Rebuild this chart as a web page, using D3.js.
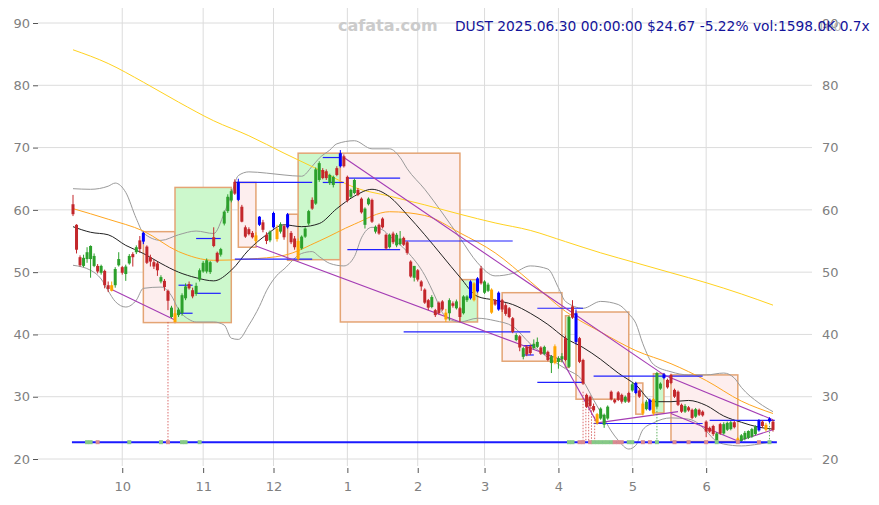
<!DOCTYPE html>
<html><head><meta charset="utf-8">
<script src="https://cdn.jsdelivr.net/npm/d3@7"></script>
<style>body{margin:0;background:#fff}svg{display:block;font-family:"DejaVu Sans",sans-serif}</style>
</head><body>
<svg id="chart" width="879" height="505"></svg>
<script>
// ---- candle data (trading days, Sep 11 2024 .. Jun 30 2025) ----
const opens = [
60.9,57.6,52.4,51.0,52.1,52.1,51.0,51.0,49.9,50.2,
47.9,47.9,47.9,51.1,50.8,49.7,51.4,52.9,53.2,55.1,
54.9,54.1,52.4,51.6,51.4,48.5,48.6,47.0,42.8,43.4,
43.1,43.4,45.8,48.1,47.1,46.5,48.8,50.1,50.1,50.0,
55.6,53.1,52.8,57.8,59.8,61.5,64.5,61.6,60.5,57.2,
56.9,56.3,55.9,57.6,58.0,56.0,55.1,57.2,57.0,56.5,
57.4,57.2,56.3,55.4,55.0,53.8,55.7,57.8,61.6,61.0,
64.8,66.4,66.2,64.3,64.0,66.7,67.0,68.6,65.3,62.1,
62.7,63.2,61.8,57.6,60.9,61.6,56.5,57.6,58.6,56.0,
54.0,56.2,54.3,54.5,55.5,54.8,51.7,49.1,50.3,48.5,
47.2,45.5,44.4,43.9,45.1,45.3,43.5,43.4,45.0,44.2,
44.2,43.4,45.5,45.8,45.5,46.9,50.6,46.7,47.0,47.2,
45.5,44.0,45.5,44.7,44.2,42.6,39.1,39.7,36.4,38.0,
38.1,37.8,38.0,37.9,36.9,37.2,35.4,38.1,35.6,36.0,
39.4,34.8,44.5,43.4,39.4,35.9,30.3,30.0,28.5,27.2,
26.5,25.5,26.5,30.8,29.5,30.7,30.3,29.2,30.6,31.0,
30.6,31.0,28.9,28.0,27.9,29.6,28.4,31.3,33.0,32.7,
33.5,31.1,30.8,28.7,27.6,28.3,27.9,26.8,27.9,27.6,
26.0,25.0,25.3,23.0,25.6,24.1,24.7,24.8,25.9,23.3,
22.9,23.2,23.4,23.6,24.0,24.6,26.0,25.5,26.5,26.0];
const highs = [
62.4,57.7,52.7,52.8,54.0,54.3,53.0,51.3,51.2,50.4,
48.5,48.5,50.8,53.2,51.0,51.2,52.9,53.2,54.3,55.8,
56.5,54.3,52.8,52.0,51.7,49.5,48.9,47.2,44.6,43.9,
44.3,46.6,48.2,48.5,47.5,48.3,50.6,51.8,52.2,51.8,
57.2,53.3,53.9,59.9,62.5,63.3,64.9,65.0,60.8,57.5,
57.2,56.6,56.4,59.0,58.4,56.4,56.7,59.7,57.6,58.0,
57.6,59.5,56.6,55.8,55.4,55.9,57.2,60.0,62.0,66.8,
67.8,66.7,66.5,65.8,65.5,67.0,69.6,68.9,65.5,63.4,
65.0,63.5,62.0,60.4,62.0,61.8,57.5,57.8,58.8,56.2,
56.2,56.5,56.3,56.6,55.7,55.0,51.9,51.0,50.5,48.7,
47.4,45.7,46.3,44.1,45.3,45.5,44.1,45.8,45.3,45.6,
44.4,46.3,46.3,48.7,48.4,49.2,51.0,48.7,48.3,47.4,
45.7,46.9,45.7,45.0,44.4,42.8,40.2,39.9,38.0,38.3,
38.4,39.2,39.5,38.1,38.2,37.4,36.7,38.4,36.5,37.0,
39.8,43.0,45.5,44.0,39.6,36.1,30.5,30.2,28.9,27.4,
28.3,27.3,28.6,31.0,29.7,30.9,30.5,30.2,30.8,32.3,
32.4,31.2,29.2,29.5,29.7,29.8,34.0,32.3,33.8,32.9,
33.7,31.3,31.0,28.9,28.8,28.5,28.1,28.2,28.1,27.8,
26.2,25.2,25.5,24.3,25.8,25.9,26.0,26.1,26.1,23.5,
24.0,24.5,24.6,25.0,25.4,26.4,26.2,25.8,26.7,26.3];
const lows = [
59.0,53.0,50.9,50.8,51.5,49.1,50.8,49.8,49.6,47.4,
46.8,46.9,47.5,50.9,49.6,48.6,51.2,50.9,52.9,53.1,
54.5,51.3,50.9,50.5,49.4,48.2,47.0,43.9,42.6,41.9,
42.8,43.0,45.5,47.2,45.8,46.2,48.5,49.9,49.8,49.7,
54.0,51.5,52.5,57.5,59.5,61.2,62.4,61.4,58.0,55.5,
55.9,55.4,54.6,57.4,56.4,54.5,54.8,57.0,54.9,56.2,
55.2,57.0,54.5,53.6,51.9,53.6,55.5,57.5,60.0,60.8,
64.5,64.9,64.8,64.0,63.6,65.4,66.8,66.8,61.2,61.9,
62.5,62.2,59.4,57.0,60.7,57.9,56.2,56.0,57.0,53.6,
53.8,54.5,54.0,54.3,54.2,52.8,49.1,48.5,48.5,47.0,
44.9,43.9,44.2,42.8,43.2,43.8,42.0,42.2,44.3,44.0,
42.0,43.2,45.2,45.6,45.3,46.7,48.0,46.5,46.8,43.3,
44.6,43.8,43.6,43.0,42.6,40.2,38.9,37.3,36.0,36.5,
36.7,37.6,37.8,36.7,36.7,35.7,33.8,35.2,34.5,35.5,
35.7,34.6,42.5,38.4,35.4,31.9,28.2,28.0,27.5,25.5,
26.3,25.0,26.3,29.4,28.9,29.3,28.9,29.0,29.0,30.8,
30.4,29.8,27.0,27.8,27.7,27.0,28.2,31.1,32.8,31.3,
32.0,29.8,28.5,27.4,27.4,27.6,26.4,26.6,26.9,26.8,
23.5,24.2,23.7,22.5,23.9,23.9,24.5,24.6,24.9,22.6,
22.7,23.0,23.2,23.4,23.8,24.4,25.0,24.4,25.8,24.4];
const closes = [
59.3,53.6,51.1,52.3,53.2,54.2,52.6,50.1,51.0,47.9,
47.3,47.0,50.5,52.1,49.9,50.9,52.6,52.4,54.0,53.7,
56.3,51.5,51.7,50.9,50.3,49.2,47.6,45.4,44.3,42.0,
44.0,46.3,47.7,47.4,46.1,47.8,50.3,51.5,51.9,51.6,
54.2,51.7,53.7,59.7,62.1,63.0,62.6,64.5,58.1,55.7,
56.1,55.6,55.0,58.9,56.8,55.0,56.5,59.5,55.3,57.7,
55.6,59.3,54.8,54.0,52.1,55.7,57.0,59.8,60.2,66.5,
67.5,65.1,65.1,65.6,65.3,65.6,69.1,67.0,61.5,63.2,
64.8,62.4,59.6,60.2,61.8,58.1,57.3,56.2,57.2,53.8,
56.0,54.8,56.0,55.4,54.4,53.1,49.3,51.0,48.8,47.7,
45.1,44.3,46.0,43.1,43.4,44.0,42.4,45.5,44.6,45.3,
42.8,46.1,46.1,48.5,48.2,49.0,48.2,48.5,48.0,43.5,
44.8,46.7,44.0,43.3,42.8,40.4,39.9,37.9,37.8,36.8,
37.0,38.5,38.8,36.9,38.0,35.9,36.5,35.4,36.2,36.5,
35.9,42.8,42.7,38.8,35.6,32.1,28.4,28.5,27.8,25.7,
28.1,27.1,28.4,29.6,29.1,29.5,29.2,30.0,29.2,32.0,
32.2,30.0,27.3,29.2,29.5,27.3,33.8,32.1,33.6,31.5,
32.2,30.0,28.7,27.6,28.5,27.8,26.6,28.0,27.1,27.0,
24.4,24.4,24.0,24.1,24.1,25.6,25.8,25.9,25.1,22.8,
23.8,24.2,24.5,24.8,25.2,26.2,25.3,24.7,26.03,24.67];
const blueCandles = [20,47,53,57,61,76,113,115,121,143,160,164,168,195,198];
const orangeCandles = [11,29,52,58,64,106,114,119,137,149,162,165,189,197];

// ---- axis ticks ----
const yTicks = [20,30,40,50,60,70,80,90];
const monthIdx = [14,37,57,78,98,117,138,159,180];
const monthLabels = ["10","11","12","1","2","3","4","5","6"];

// ---- indicator lines (sampled) ----
const yellowIdx = [0,10,20,30,40,50,60,70,80,90,100,110,120,130,140,150,160,170,180,190,199];
const yellowVal = [85.7,83.5,80.5,77.3,74.3,71.9,69.1,66.4,63.6,62.2,60.8,59.3,57.9,56.7,54.9,53.1,51.5,49.9,48.3,46.5,44.7];
const orangeIdx = [0,10,20,30,40,50,60,70,80,90,100,110,120,130,140,150,160,170,180,190,199];
const orangeVal = [60.2,58.5,56.6,53.3,51.9,52.1,52.7,55.0,57.7,59.7,59.1,56.3,53.1,48.5,43.7,40.4,37.4,35.3,32.6,29.3,27.3];
const midIdx = [0,5,10,15,20,25,30,35,40,45,50,55,60,65,70,75,80,85,90,95,100,105,110,115,120,125,130,135,140,145,150,155,160,165,170,175,180,185,190,195,199];
const midVal = [57.3,56.4,56.0,54.3,53.0,51.4,50.0,49.1,48.6,50.3,53.6,56.0,57.6,57.3,57.8,60.2,62.2,63.3,62.1,59.2,56.0,52.6,49.2,46.1,45.5,44.8,43.4,41.6,39.4,37.9,36.0,33.8,31.9,29.2,29.2,29.4,28.6,26.9,25.9,25.1,24.8];
const upperIdx = [0,5,10,12,15,18,20,25,30,35,40,43,45,47,50,55,60,65,68,70,73,75,80,85,90,93,95,100,105,110,115,120,125,130,135,138,140,145,150,155,158,160,162,165,170,175,180,185,188,190,195,199];
const upperVal = [63.4,63.3,63.8,64.3,62.8,58.6,56.3,55.1,56.0,56.6,56.2,59.5,62.5,65.5,66.1,65.9,65.6,65.4,67.0,68.3,69.6,70.6,71.1,69.8,69.8,68.4,66.6,63.3,59.5,55.5,51.5,49.4,49.8,51.0,50.5,47.5,45.3,44.2,45.3,44.8,43.3,41.8,38.5,35.2,34.0,33.5,33.5,33.8,33.0,31.5,29.0,27.6];
const lowerIdx = [0,5,8,10,12,15,18,20,25,28,30,33,35,40,43,45,47,50,53,55,58,60,65,68,70,73,77,80,82,85,88,90,95,100,103,105,108,110,115,120,125,130,135,140,145,148,150,153,155,158,160,162,165,170,175,178,180,183,185,190,195,199];
const lowerVal = [51.1,50.3,48.9,47.0,45.3,44.4,45.5,47.4,47.6,46.2,44.0,42.4,42.0,42.0,41.5,39.4,39.2,41.5,44.5,47.0,49.5,50.5,53.0,53.3,52.5,51.4,51.0,52.5,55.5,57.2,56.8,55.8,53.3,49.5,46.0,43.5,42.2,42.0,42.6,42.2,41.3,38.5,36.3,34.5,32.5,29.5,27.5,24.5,23.0,21.6,22.2,24.7,25.8,26.6,26.4,25.6,24.5,22.8,22.4,22.1,22.4,22.8];

// ---- annotations ----
// [startIdx, endIdx, topPrice, bottomPrice, kind]
const boxes = [
 [20,29,56.5,41.9,"r"],[29,45,63.6,41.9,"g"],[47,52,64.4,54.0,"r"],[61,64,59.3,51.9,"r"],
 [64,76,69.1,52.0,"g"],[76,110,69.1,42.0,"r"],[110,115,48.8,42.0,"g"],[122,139,46.7,35.7,"r"],
 [140,141,43.0,34.7,"g"],[143,158,43.6,29.6,"r"],[160,162,32.2,27.2,"r"],[165,168,33.7,27.4,"g"],
 [170,189,33.5,22.8,"r"]];
// [startIdx, endIdx, price]
const levels = [
 [30,34,47.9],[30,34,43.4],[35,42,55.4],[35,42,46.6],[46,68,64.4],[46,68,52.1],
 [71,76,68.4],[71,77,64.4],[78,93,65.1],[78,93,53.6],[94,125,55.0],[94,130,40.4],
 [132,145,44.2],[132,145,32.3],[128,131,38.2],[128,131,36.7],[148,179,33.3],[148,179,25.7],
 [181,199.5,26.2]];
const baseLevel = [-0.3,200.1,22.7];
// [idx1, price1, idx2, price2]
const trendLines = [
 [11,47.2,29,42.3],[52,54.2,139,35.9],[139,35.9,149,25.8],[77,68.4,168,33.5],
 [168,33.5,199,26.3],[149,25.8,172,27.6],[170,27.3,189,22.9],[189,22.9,199,24.7]];
// [idx, fromPrice, kind]
const dropLines = [[27,42.0,"r"],[145,30.8,"r"],[145.8,29.5,"r"],[146.6,29.5,"r"],[147.4,28.3,"r"],[148.3,26.8,"r"],[166,28.2,"g"],[198,25.8,"g"]];
const signalMarks = [[4,"g"],[5,"g"],[7,"r"],[16,"g"],[25,"g"],[27,"r"],[31,"g"],[32,"g"],[36,"g"],
 [141,"g"],[142,"g"],[144,"r"],[145,"r"],[147,"r"],[148,"g"],[149,"g"],[150,"g"],[151,"g"],[152,"g"],[153,"g"],
 [154,"r"],[155,"r"],[156,"r"],[158,"g"],[159,"g"],[162,"r"],[164,"r"],[166,"g"],[171,"r"],[175,"r"],
 [180,"r"],[183,"g"],[189,"r"],[195,"r"],[198,"g"]];

const titleText = "DUST 2025.06.30 00:00:00 $24.67 -5.22% vol:1598.0K 0.7x";

// ---- drawing ----
const svg = d3.select("#chart");
const x = d3.scaleLinear().domain([0,199]).range([73,773]);
const y = d3.scaleLinear().domain([20,90]).range([459,23]);

// grid
const grid = svg.append("g");
grid.selectAll("line.h").data(yTicks).join("line")
  .attr("x1",38).attr("x2",812).attr("y1",d=>y(d)).attr("y2",d=>y(d))
  .attr("stroke","#dcdcdc").attr("stroke-width",1);
grid.selectAll("line.v").data(monthIdx).join("line")
  .attr("x1",d=>x(d)).attr("x2",d=>x(d)).attr("y1",8).attr("y2",466)
  .attr("stroke","#dcdcdc").attr("stroke-width",1);

// axes
function styleAxis(g){
  g.select(".domain").remove();
  g.selectAll("text").attr("fill","#808080").attr("font-size",13).attr("font-family","DejaVu Sans, sans-serif");
  g.selectAll("line").attr("stroke","#555");
}
svg.append("g").attr("transform","translate(38,0)")
  .call(d3.axisLeft(y).tickValues(yTicks).tickSize(5).tickPadding(3)).call(styleAxis);
svg.append("g").attr("transform","translate(815,0)")
  .call(d3.axisRight(y).tickValues(yTicks).tickSize(0).tickPadding(7)).call(styleAxis);
svg.append("g").attr("transform","translate(0,468)")
  .call(d3.axisBottom(x).tickValues(monthIdx).tickFormat((d,i)=>monthLabels[i]).tickSize(5).tickPadding(9)).call(styleAxis);

// boxes
svg.append("g").selectAll("rect").data(boxes).join("rect")
  .attr("x",d=>x(d[0])).attr("width",d=>x(d[1])-x(d[0]))
  .attr("y",d=>y(d[2])).attr("height",d=>y(d[3])-y(d[2]))
  .attr("fill",d=>d[4]==="g"?"#ccf8cc":"#fdeeee")
  .attr("stroke","#e4a474").attr("stroke-width",1.5);

// indicator lines
function series(idx, vals){ return idx.map((d,i)=>[d,vals[i]]); }
const line = d3.line().x(d=>x(d[0])).y(d=>y(d[1])).curve(d3.curveMonotoneX);
const ind = svg.append("g").attr("fill","none");
ind.append("path").attr("d",line(series(upperIdx,upperVal))).attr("stroke","#9a9a9a").attr("stroke-width",1);
ind.append("path").attr("d",line(series(lowerIdx,lowerVal))).attr("stroke","#9a9a9a").attr("stroke-width",1);
ind.append("path").attr("d",line(series(yellowIdx,yellowVal))).attr("stroke","#ffd21f").attr("stroke-width",1);
ind.append("path").attr("d",line(series(orangeIdx,orangeVal))).attr("stroke","#ffa620").attr("stroke-width",1);
ind.append("path").attr("d",line(series(midIdx,midVal))).attr("stroke","#222").attr("stroke-width",1);

// horizontal levels
svg.append("g").selectAll("line").data(levels).join("line")
  .attr("x1",d=>x(d[0])).attr("x2",d=>x(d[1])).attr("y1",d=>y(d[2])).attr("y2",d=>y(d[2]))
  .attr("stroke","#2020ff").attr("stroke-width",1.2);

// trend lines
svg.append("g").selectAll("line").data(trendLines).join("line")
  .attr("x1",d=>x(d[0])).attr("y1",d=>y(d[1])).attr("x2",d=>x(d[2])).attr("y2",d=>y(d[3]))
  .attr("stroke","#a43cb4").attr("stroke-width",1.1);

// dotted drop lines
svg.append("g").selectAll("line").data(dropLines).join("line")
  .attr("x1",d=>x(d[0])).attr("x2",d=>x(d[0])).attr("y1",d=>y(d[1])).attr("y2",y(baseLevel[2]))
  .attr("stroke",d=>d[2]==="g"?"#3aa03a":"#d04848").attr("stroke-width",0.8).attr("stroke-dasharray","1.5,1.5");

// candles
const candles = d3.range(opens.length).map(i=>({i,o:opens[i],h:highs[i],l:lows[i],c:closes[i]}));
function ccol(d){
  if (blueCandles.includes(d.i)) return "#0000ff";
  if (orangeCandles.includes(d.i)) return "#ffa500";
  return d.c>=d.o ? "#2ca02c" : "#c3272b";
}
const cg = svg.append("g");
cg.selectAll("line").data(candles).join("line")
  .attr("x1",d=>x(d.i)).attr("x2",d=>x(d.i)).attr("y1",d=>y(d.h)).attr("y2",d=>y(d.l))
  .attr("stroke",ccol).attr("stroke-width",1);
cg.selectAll("rect").data(candles).join("rect")
  .attr("x",d=>x(d.i)-1.5).attr("width",3)
  .attr("y",d=>y(Math.max(d.o,d.c)))
  .attr("height",d=>Math.max(1,Math.abs(y(d.o)-y(d.c))))
  .attr("fill",ccol);

// base level and signal marks
svg.append("line").attr("x1",x(baseLevel[0])).attr("x2",x(baseLevel[1]))
  .attr("y1",y(baseLevel[2])).attr("y2",y(baseLevel[2])).attr("stroke","#1a1aff").attr("stroke-width",2);
svg.append("g").selectAll("rect").data(signalMarks).join("rect")
  .attr("x",d=>x(d[0])-2).attr("width",4).attr("y",y(baseLevel[2])-2).attr("height",4)
  .attr("fill",d=>d[1]==="g"?"#86c986":"#d98a90");

// texts
svg.append("text").attr("x",817).attr("y",31).attr("font-size",13).attr("fill","#b0b0b0").text("100");
svg.append("text").attr("x",338).attr("y",31).attr("font-size",16).attr("font-weight","bold")
  .attr("fill","#cbcbcb").text("cafata.com");
svg.append("text").attr("x",455).attr("y",31).attr("font-size",13.8).attr("fill","#14149a").text(titleText);
</script>
</body></html>
